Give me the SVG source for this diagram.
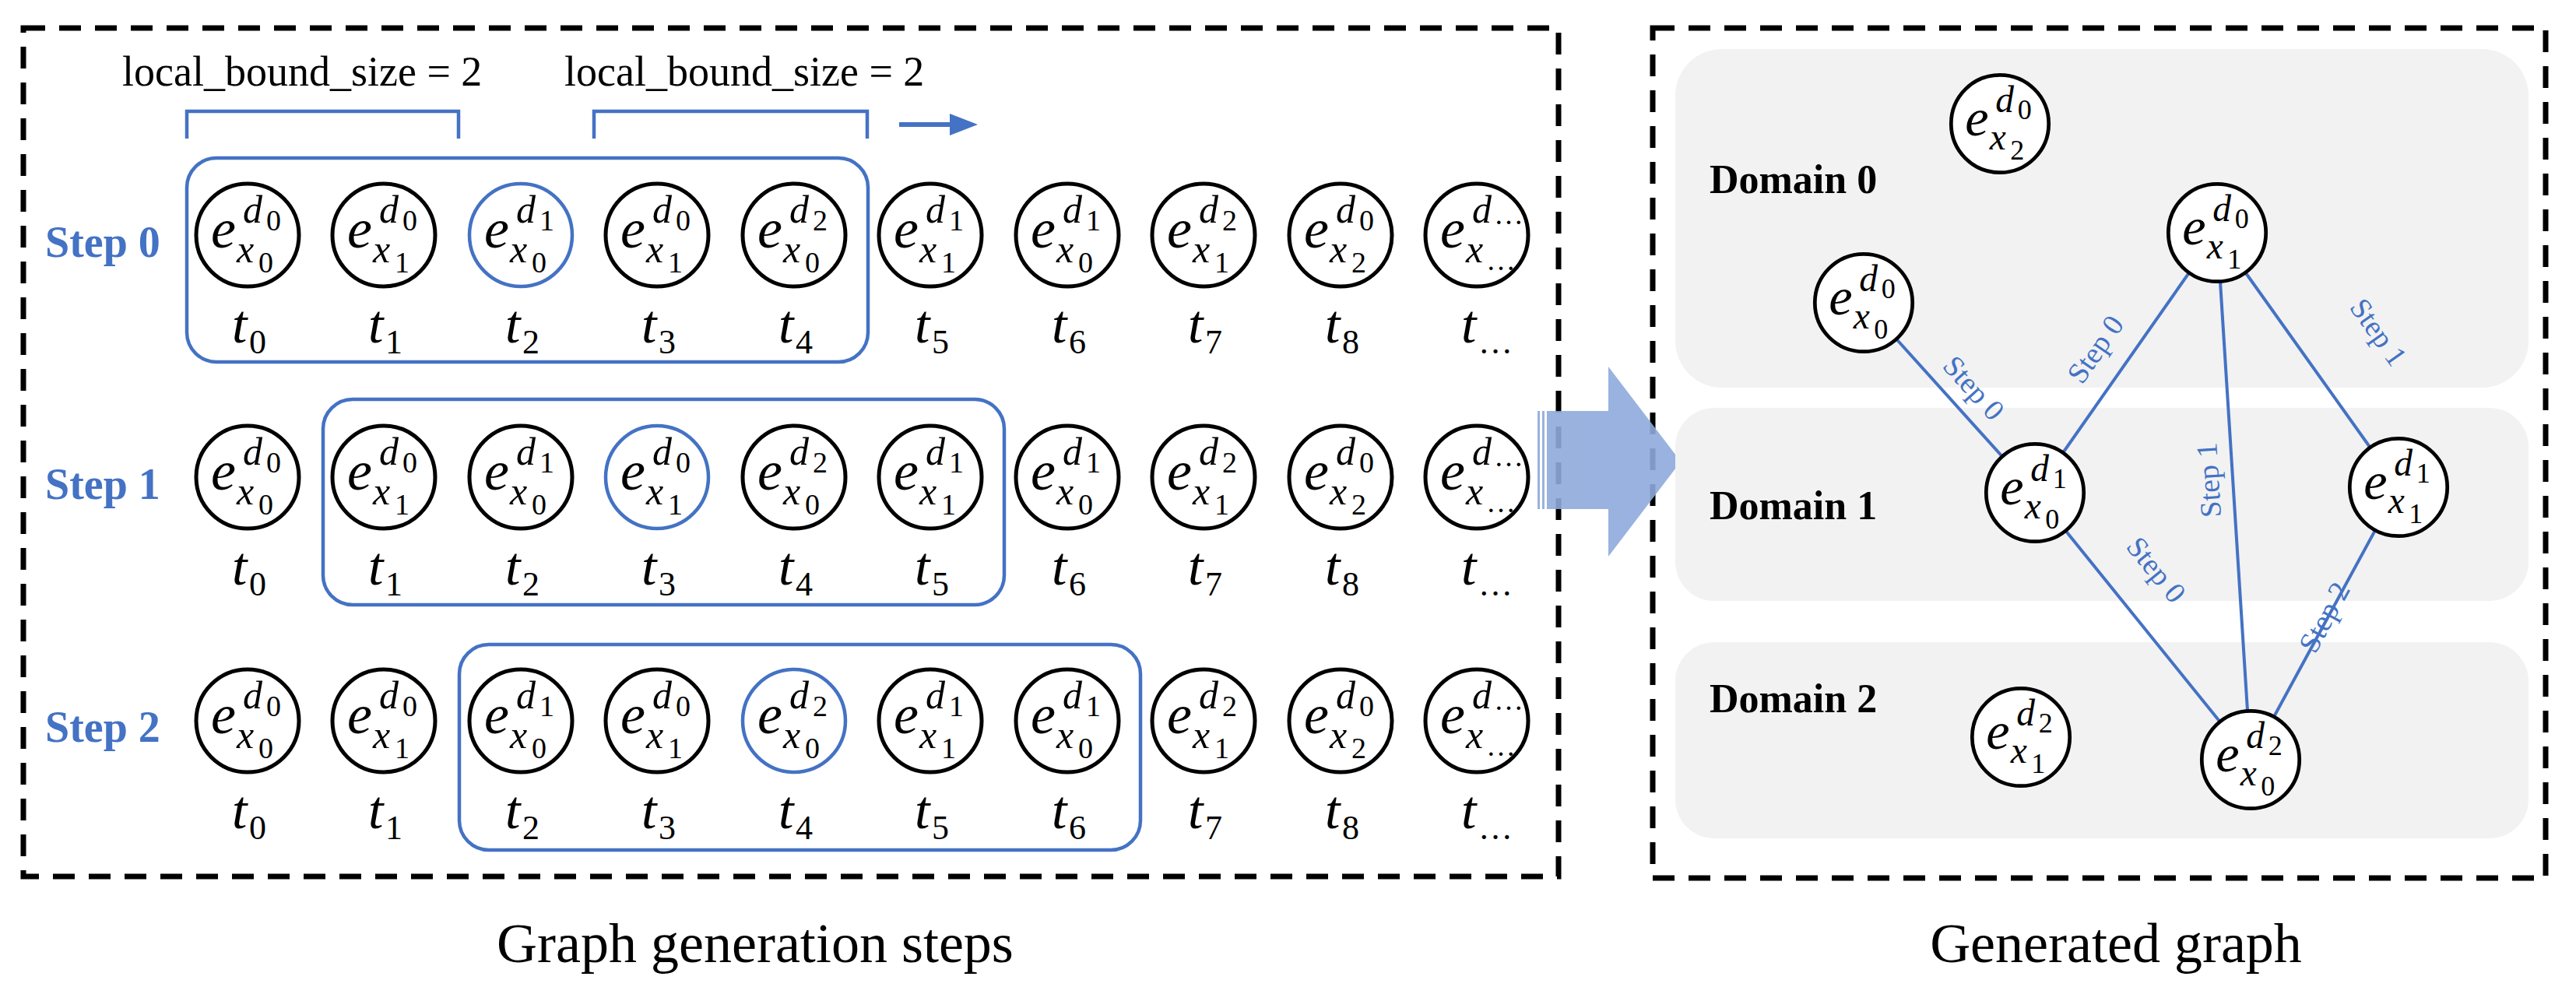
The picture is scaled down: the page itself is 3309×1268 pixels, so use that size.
<svg xmlns="http://www.w3.org/2000/svg" width="3309" height="1268" viewBox="0 0 3309 1268">
<style>
.bg{fill:#fff}
.dash{fill:none;stroke:#000;stroke-width:7;stroke-dasharray:28 18}
.nc{fill:#fff;stroke:#000;stroke-width:5}
.hc{fill:#fff;stroke:#4472C4;stroke-width:4.5}
.e{font:italic 72px "Liberation Serif",serif}
.s{font:italic 50px "Liberation Serif",serif}
.n{font:38px "Liberation Serif",serif}
.t{font:italic 70px "Liberation Serif",serif}
.tn{font:44px "Liberation Serif",serif}
.box{fill:none;stroke:#4472C4;stroke-width:4.5}
.step{font:bold 56px "Liberation Serif",serif;fill:#4472C4}
.lb{font:54px "Liberation Serif",serif}
.cap{font:72px "Liberation Serif",serif;text-anchor:middle}
.dom{fill:#F2F2F2}
.dl{font:bold 52px "Liberation Serif",serif}
.edge{stroke:#4472C4;stroke-width:4;fill:none}
.el{font:38px "Liberation Serif",serif;fill:#4472C4;text-anchor:middle}
</style>
<rect class="bg" width="3309" height="1268"/>
<rect class="dash" x="30" y="36" width="1972" height="1090"/>
<rect class="dash" x="2123" y="36" width="1147" height="1092"/>
<text class="cap" x="970" y="1236">Graph generation steps</text>
<text class="cap" x="2718" y="1236">Generated graph</text>
<text class="lb" x="157" y="110">local_bound_size = 2</text>
<text class="lb" x="725" y="110">local_bound_size = 2</text>
<path class="box" d="M240,178V143H589V178M763,178V143H1114V178"/>
<path d="M1155,160H1225" stroke="#4472C4" stroke-width="6"/>
<path d="M1220,146L1256,160L1220,174Z" fill="#4472C4"/>
<text class="step" x="58" y="330">Step 0</text>
<text class="step" x="58" y="641">Step 1</text>
<text class="step" x="58" y="953">Step 2</text>
<rect class="box" x="240" y="203" width="875" height="262" rx="38"/>
<rect class="box" x="415" y="513" width="875" height="264" rx="38"/>
<rect class="box" x="590" y="828" width="875" height="264" rx="38"/>
<g id="arrow" fill="#8EAADB" opacity="0.9">
<rect x="1975" y="528" width="3" height="126"/>
<rect x="1981" y="528" width="3" height="126"/>
<path d="M1987,528H2066V471L2159,593L2066,715V654H1987Z"/>
</g>
<g id="domains">
<rect class="dom" x="2152" y="63" width="1096" height="435" rx="60"/>
<rect class="dom" x="2152" y="524" width="1096" height="248" rx="50"/>
<rect class="dom" x="2152" y="825" width="1096" height="252" rx="50"/>
<text class="dl" x="2196" y="248">Domain 0</text>
<text class="dl" x="2196" y="667">Domain 1</text>
<text class="dl" x="2196" y="915">Domain 2</text>
</g>
<g id="connectors">
<path class="edge" d="M2394,389L2614,633M2614,633L2848,299M2848,299L2891,976M2848,299L3081,626M2614,633L2891,976M3081,626L2891,976"/>
<text class="el" transform="translate(2526,507) rotate(48)">Step 0</text>
<text class="el" transform="translate(2702,456) rotate(-55)">Step 0</text>
<text class="el" transform="translate(2850,616) rotate(-93.6)">Step 1</text>
<text class="el" transform="translate(3045,434) rotate(54.5)">Step 1</text>
<text class="el" transform="translate(2760,740) rotate(51)">Step 0</text>
<text class="el" transform="translate(2997,799) rotate(-61.5)">Step 2</text>
</g>
<!-- row 0 -->
<g id="r0c0" transform="translate(318,302)"><circle r="66" class="nc"/><text class="e" x="-47" y="16">e</text><text class="s" x="-6" y="-16">d</text><text class="n" x="24" y="-6">0</text><text class="s" x="-14" y="35">x</text><text class="n" x="14" y="48">0</text><text class="t" x="-20" y="138">t</text><text class="tn" x="2" y="152">0</text></g>
<g id="r0c1" transform="translate(493,302)"><circle r="66" class="nc"/><text class="e" x="-47" y="16">e</text><text class="s" x="-6" y="-16">d</text><text class="n" x="24" y="-6">0</text><text class="s" x="-14" y="35">x</text><text class="n" x="14" y="48">1</text><text class="t" x="-20" y="138">t</text><text class="tn" x="2" y="152">1</text></g>
<g id="r0c2" transform="translate(669,302)"><circle r="66" class="hc"/><text class="e" x="-47" y="16">e</text><text class="s" x="-6" y="-16">d</text><text class="n" x="24" y="-6">1</text><text class="s" x="-14" y="35">x</text><text class="n" x="14" y="48">0</text><text class="t" x="-20" y="138">t</text><text class="tn" x="2" y="152">2</text></g>
<g id="r0c3" transform="translate(844,302)"><circle r="66" class="nc"/><text class="e" x="-47" y="16">e</text><text class="s" x="-6" y="-16">d</text><text class="n" x="24" y="-6">0</text><text class="s" x="-14" y="35">x</text><text class="n" x="14" y="48">1</text><text class="t" x="-20" y="138">t</text><text class="tn" x="2" y="152">3</text></g>
<g id="r0c4" transform="translate(1020,302)"><circle r="66" class="nc"/><text class="e" x="-47" y="16">e</text><text class="s" x="-6" y="-16">d</text><text class="n" x="24" y="-6">2</text><text class="s" x="-14" y="35">x</text><text class="n" x="14" y="48">0</text><text class="t" x="-20" y="138">t</text><text class="tn" x="2" y="152">4</text></g>
<g id="r0c5" transform="translate(1195,302)"><circle r="66" class="nc"/><text class="e" x="-47" y="16">e</text><text class="s" x="-6" y="-16">d</text><text class="n" x="24" y="-6">1</text><text class="s" x="-14" y="35">x</text><text class="n" x="14" y="48">1</text><text class="t" x="-20" y="138">t</text><text class="tn" x="2" y="152">5</text></g>
<g id="r0c6" transform="translate(1371,302)"><circle r="66" class="nc"/><text class="e" x="-47" y="16">e</text><text class="s" x="-6" y="-16">d</text><text class="n" x="24" y="-6">1</text><text class="s" x="-14" y="35">x</text><text class="n" x="14" y="48">0</text><text class="t" x="-20" y="138">t</text><text class="tn" x="2" y="152">6</text></g>
<g id="r0c7" transform="translate(1546,302)"><circle r="66" class="nc"/><text class="e" x="-47" y="16">e</text><text class="s" x="-6" y="-16">d</text><text class="n" x="24" y="-6">2</text><text class="s" x="-14" y="35">x</text><text class="n" x="14" y="48">1</text><text class="t" x="-20" y="138">t</text><text class="tn" x="2" y="152">7</text></g>
<g id="r0c8" transform="translate(1722,302)"><circle r="66" class="nc"/><text class="e" x="-47" y="16">e</text><text class="s" x="-6" y="-16">d</text><text class="n" x="24" y="-6">0</text><text class="s" x="-14" y="35">x</text><text class="n" x="14" y="48">2</text><text class="t" x="-20" y="138">t</text><text class="tn" x="2" y="152">8</text></g>
<g id="r0c9" transform="translate(1897,302)"><circle r="66" class="nc"/><text class="e" x="-47" y="16">e</text><text class="s" x="-6" y="-16">d</text><text class="n" x="22" y="-14">…</text><text class="s" x="-14" y="35">x</text><text class="n" x="12" y="45">…</text><text class="t" x="-20" y="138">t</text><text class="tn" x="2" y="152">…</text></g>
<!-- row 1 -->
<g id="r1c0" transform="translate(318,613)"><circle r="66" class="nc"/><text class="e" x="-47" y="16">e</text><text class="s" x="-6" y="-16">d</text><text class="n" x="24" y="-6">0</text><text class="s" x="-14" y="35">x</text><text class="n" x="14" y="48">0</text><text class="t" x="-20" y="138">t</text><text class="tn" x="2" y="152">0</text></g>
<g id="r1c1" transform="translate(493,613)"><circle r="66" class="nc"/><text class="e" x="-47" y="16">e</text><text class="s" x="-6" y="-16">d</text><text class="n" x="24" y="-6">0</text><text class="s" x="-14" y="35">x</text><text class="n" x="14" y="48">1</text><text class="t" x="-20" y="138">t</text><text class="tn" x="2" y="152">1</text></g>
<g id="r1c2" transform="translate(669,613)"><circle r="66" class="nc"/><text class="e" x="-47" y="16">e</text><text class="s" x="-6" y="-16">d</text><text class="n" x="24" y="-6">1</text><text class="s" x="-14" y="35">x</text><text class="n" x="14" y="48">0</text><text class="t" x="-20" y="138">t</text><text class="tn" x="2" y="152">2</text></g>
<g id="r1c3" transform="translate(844,613)"><circle r="66" class="hc"/><text class="e" x="-47" y="16">e</text><text class="s" x="-6" y="-16">d</text><text class="n" x="24" y="-6">0</text><text class="s" x="-14" y="35">x</text><text class="n" x="14" y="48">1</text><text class="t" x="-20" y="138">t</text><text class="tn" x="2" y="152">3</text></g>
<g id="r1c4" transform="translate(1020,613)"><circle r="66" class="nc"/><text class="e" x="-47" y="16">e</text><text class="s" x="-6" y="-16">d</text><text class="n" x="24" y="-6">2</text><text class="s" x="-14" y="35">x</text><text class="n" x="14" y="48">0</text><text class="t" x="-20" y="138">t</text><text class="tn" x="2" y="152">4</text></g>
<g id="r1c5" transform="translate(1195,613)"><circle r="66" class="nc"/><text class="e" x="-47" y="16">e</text><text class="s" x="-6" y="-16">d</text><text class="n" x="24" y="-6">1</text><text class="s" x="-14" y="35">x</text><text class="n" x="14" y="48">1</text><text class="t" x="-20" y="138">t</text><text class="tn" x="2" y="152">5</text></g>
<g id="r1c6" transform="translate(1371,613)"><circle r="66" class="nc"/><text class="e" x="-47" y="16">e</text><text class="s" x="-6" y="-16">d</text><text class="n" x="24" y="-6">1</text><text class="s" x="-14" y="35">x</text><text class="n" x="14" y="48">0</text><text class="t" x="-20" y="138">t</text><text class="tn" x="2" y="152">6</text></g>
<g id="r1c7" transform="translate(1546,613)"><circle r="66" class="nc"/><text class="e" x="-47" y="16">e</text><text class="s" x="-6" y="-16">d</text><text class="n" x="24" y="-6">2</text><text class="s" x="-14" y="35">x</text><text class="n" x="14" y="48">1</text><text class="t" x="-20" y="138">t</text><text class="tn" x="2" y="152">7</text></g>
<g id="r1c8" transform="translate(1722,613)"><circle r="66" class="nc"/><text class="e" x="-47" y="16">e</text><text class="s" x="-6" y="-16">d</text><text class="n" x="24" y="-6">0</text><text class="s" x="-14" y="35">x</text><text class="n" x="14" y="48">2</text><text class="t" x="-20" y="138">t</text><text class="tn" x="2" y="152">8</text></g>
<g id="r1c9" transform="translate(1897,613)"><circle r="66" class="nc"/><text class="e" x="-47" y="16">e</text><text class="s" x="-6" y="-16">d</text><text class="n" x="22" y="-14">…</text><text class="s" x="-14" y="35">x</text><text class="n" x="12" y="45">…</text><text class="t" x="-20" y="138">t</text><text class="tn" x="2" y="152">…</text></g>
<!-- row 2 -->
<g id="r2c0" transform="translate(318,926)"><circle r="66" class="nc"/><text class="e" x="-47" y="16">e</text><text class="s" x="-6" y="-16">d</text><text class="n" x="24" y="-6">0</text><text class="s" x="-14" y="35">x</text><text class="n" x="14" y="48">0</text><text class="t" x="-20" y="138">t</text><text class="tn" x="2" y="152">0</text></g>
<g id="r2c1" transform="translate(493,926)"><circle r="66" class="nc"/><text class="e" x="-47" y="16">e</text><text class="s" x="-6" y="-16">d</text><text class="n" x="24" y="-6">0</text><text class="s" x="-14" y="35">x</text><text class="n" x="14" y="48">1</text><text class="t" x="-20" y="138">t</text><text class="tn" x="2" y="152">1</text></g>
<g id="r2c2" transform="translate(669,926)"><circle r="66" class="nc"/><text class="e" x="-47" y="16">e</text><text class="s" x="-6" y="-16">d</text><text class="n" x="24" y="-6">1</text><text class="s" x="-14" y="35">x</text><text class="n" x="14" y="48">0</text><text class="t" x="-20" y="138">t</text><text class="tn" x="2" y="152">2</text></g>
<g id="r2c3" transform="translate(844,926)"><circle r="66" class="nc"/><text class="e" x="-47" y="16">e</text><text class="s" x="-6" y="-16">d</text><text class="n" x="24" y="-6">0</text><text class="s" x="-14" y="35">x</text><text class="n" x="14" y="48">1</text><text class="t" x="-20" y="138">t</text><text class="tn" x="2" y="152">3</text></g>
<g id="r2c4" transform="translate(1020,926)"><circle r="66" class="hc"/><text class="e" x="-47" y="16">e</text><text class="s" x="-6" y="-16">d</text><text class="n" x="24" y="-6">2</text><text class="s" x="-14" y="35">x</text><text class="n" x="14" y="48">0</text><text class="t" x="-20" y="138">t</text><text class="tn" x="2" y="152">4</text></g>
<g id="r2c5" transform="translate(1195,926)"><circle r="66" class="nc"/><text class="e" x="-47" y="16">e</text><text class="s" x="-6" y="-16">d</text><text class="n" x="24" y="-6">1</text><text class="s" x="-14" y="35">x</text><text class="n" x="14" y="48">1</text><text class="t" x="-20" y="138">t</text><text class="tn" x="2" y="152">5</text></g>
<g id="r2c6" transform="translate(1371,926)"><circle r="66" class="nc"/><text class="e" x="-47" y="16">e</text><text class="s" x="-6" y="-16">d</text><text class="n" x="24" y="-6">1</text><text class="s" x="-14" y="35">x</text><text class="n" x="14" y="48">0</text><text class="t" x="-20" y="138">t</text><text class="tn" x="2" y="152">6</text></g>
<g id="r2c7" transform="translate(1546,926)"><circle r="66" class="nc"/><text class="e" x="-47" y="16">e</text><text class="s" x="-6" y="-16">d</text><text class="n" x="24" y="-6">2</text><text class="s" x="-14" y="35">x</text><text class="n" x="14" y="48">1</text><text class="t" x="-20" y="138">t</text><text class="tn" x="2" y="152">7</text></g>
<g id="r2c8" transform="translate(1722,926)"><circle r="66" class="nc"/><text class="e" x="-47" y="16">e</text><text class="s" x="-6" y="-16">d</text><text class="n" x="24" y="-6">0</text><text class="s" x="-14" y="35">x</text><text class="n" x="14" y="48">2</text><text class="t" x="-20" y="138">t</text><text class="tn" x="2" y="152">8</text></g>
<g id="r2c9" transform="translate(1897,926)"><circle r="66" class="nc"/><text class="e" x="-47" y="16">e</text><text class="s" x="-6" y="-16">d</text><text class="n" x="22" y="-14">…</text><text class="s" x="-14" y="35">x</text><text class="n" x="12" y="45">…</text><text class="t" x="-20" y="138">t</text><text class="tn" x="2" y="152">…</text></g>
<!-- graph nodes -->
<g id="g_d0x2" transform="translate(2569,159) scale(0.95)"><circle r="66" class="nc"/><text class="e" x="-47" y="16">e</text><text class="s" x="-6" y="-16">d</text><text class="n" x="24" y="-6">0</text><text class="s" x="-14" y="35">x</text><text class="n" x="14" y="48">2</text></g>
<g id="g_d0x0" transform="translate(2394,389) scale(0.95)"><circle r="66" class="nc"/><text class="e" x="-47" y="16">e</text><text class="s" x="-6" y="-16">d</text><text class="n" x="24" y="-6">0</text><text class="s" x="-14" y="35">x</text><text class="n" x="14" y="48">0</text></g>
<g id="g_d0x1" transform="translate(2848,299) scale(0.95)"><circle r="66" class="nc"/><text class="e" x="-47" y="16">e</text><text class="s" x="-6" y="-16">d</text><text class="n" x="24" y="-6">0</text><text class="s" x="-14" y="35">x</text><text class="n" x="14" y="48">1</text></g>
<g id="g_d1x0" transform="translate(2614,633) scale(0.95)"><circle r="66" class="nc"/><text class="e" x="-47" y="16">e</text><text class="s" x="-6" y="-16">d</text><text class="n" x="24" y="-6">1</text><text class="s" x="-14" y="35">x</text><text class="n" x="14" y="48">0</text></g>
<g id="g_d1x1" transform="translate(3081,626) scale(0.95)"><circle r="66" class="nc"/><text class="e" x="-47" y="16">e</text><text class="s" x="-6" y="-16">d</text><text class="n" x="24" y="-6">1</text><text class="s" x="-14" y="35">x</text><text class="n" x="14" y="48">1</text></g>
<g id="g_d2x1" transform="translate(2596,947) scale(0.95)"><circle r="66" class="nc"/><text class="e" x="-47" y="16">e</text><text class="s" x="-6" y="-16">d</text><text class="n" x="24" y="-6">2</text><text class="s" x="-14" y="35">x</text><text class="n" x="14" y="48">1</text></g>
<g id="g_d2x0" transform="translate(2891,976) scale(0.95)"><circle r="66" class="nc"/><text class="e" x="-47" y="16">e</text><text class="s" x="-6" y="-16">d</text><text class="n" x="24" y="-6">2</text><text class="s" x="-14" y="35">x</text><text class="n" x="14" y="48">0</text></g>
</svg>
